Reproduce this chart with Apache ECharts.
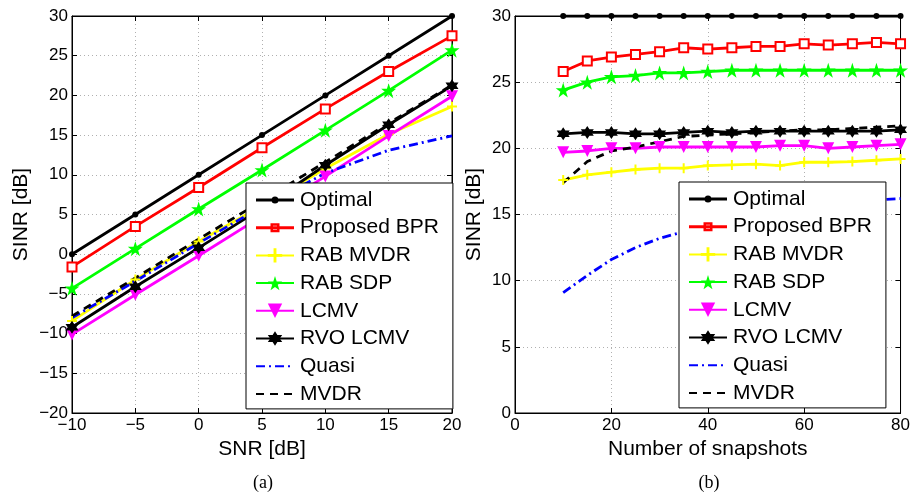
<!DOCTYPE html>
<html>
<head>
<meta charset="utf-8">
<script src="https://cdn.jsdelivr.net/npm/echarts@6/dist/echarts.min.js"></script>
<style>
  html, body { margin: 0; padding: 0; background: #fff; }
  #main { width: 913px; height: 495px; }
</style>
</head>
<body>
<div id="main"></div>
<script>
// (a) SINR vs SNR
var snr = [-10, -5, 0, 5, 10, 15, 20];
var aOptimal  = [0, 5, 10, 15, 20, 25, 30];
var aBPR      = [-1.6, 3.5, 8.4, 13.4, 18.3, 23.0, 27.5];
var aRabMvdr  = [-8.4, -3.2, 1.6, 6.1, 10.8, 15.1, 18.6];
var aRabSdp   = [-4.3, 0.7, 5.7, 10.6, 15.6, 20.6, 25.7];
var aLcmv     = [-10.1, -5.1, -0.2, 4.8, 9.8, 14.9, 19.9];
var aRvo      = [-9.2, -4.1, 0.8, 5.8, 11.2, 16.3, 21.2];
var aQuasi    = [-8.0, -3.4, 1.4, 6.0, 10.2, 13.1, 14.9];
var aMvdr     = [-7.8, -3.0, 1.9, 6.7, 11.6, 16.5, 21.3];

// (b) SINR vs number of snapshots
var snaps = [10, 15, 20, 25, 30, 35, 40, 45, 50, 55, 60, 65, 70, 75, 80];
var bOptimal  = [30, 30, 30, 30, 30, 30, 30, 30, 30, 30, 30, 30, 30, 30, 30];
var bBPR      = [25.8, 26.6, 26.9, 27.1, 27.3, 27.6, 27.5, 27.6, 27.7, 27.7, 27.9, 27.8, 27.9, 28.0, 27.9];
var bRabMvdr  = [17.6, 18.0, 18.2, 18.4, 18.5, 18.5, 18.7, 18.75, 18.8, 18.7, 18.95, 18.95, 19.0, 19.1, 19.2];
var bRabSdp   = [24.4, 25.0, 25.4, 25.5, 25.7, 25.7, 25.8, 25.9, 25.9, 25.9, 25.9, 25.9, 25.9, 25.9, 25.9];
var bLcmv     = [19.7, 19.8, 20.0, 20.0, 20.1, 20.1, 20.1, 20.1, 20.1, 20.2, 20.2, 20.0, 20.1, 20.2, 20.3];
var bRvo      = [21.1, 21.2, 21.2, 21.1, 21.1, 21.2, 21.3, 21.2, 21.3, 21.3, 21.3, 21.3, 21.3, 21.3, 21.4];
var bQuasi    = [9.1, 10.4, 11.6, 12.5, 13.2, 13.7, 14.2, 14.6, 15.0, 15.3, 15.6, 15.8, 16.0, 16.1, 16.2];
var bMvdr     = [17.4, 19.0, 19.8, 20.1, 20.5, 20.9, 21.0, 21.1, 21.2, 21.3, 21.4, 21.4, 21.5, 21.6, 21.7];

var names = ['Optimal', 'Proposed BPR', 'RAB MVDR', 'RAB SDP', 'LCMV', 'RVO LCMV', 'Quasi', 'MVDR'];

var plusPath = 'path://M4,0 L6,0 L6,4 L10,4 L10,6 L6,6 L6,10 L4,10 L4,6 L0,6 L0,4 L4,4 Z';
var starPath = 'path://M50,0 L61.8,36.2 L100,36.2 L69.1,58.6 L80.9,95 L50,72.6 L19.1,95 L30.9,58.6 L0,36.2 L38.2,36.2 Z';
var hexPath = 'path://M50,0 L64.4,25 L93.3,25 L78.9,50 L93.3,75 L64.4,75 L50,100 L35.6,75 L6.7,75 L21.1,50 L6.7,25 L35.6,25 Z';
// zero-area path: keeps the legend from drawing a dot for the plain lines
var blankPath = 'path://M0,0 L1,1';
// legend icons (line + small marker), drawn in an 38x18 box
var optimalIcon = 'path://M0,0 L0,0 M0,18 L0,18 M0,7.5 L38,7.5 L38,10.5 L0,10.5 Z M22.5,9 A3.5,3.5 0 1 1 15.5,9 A3.5,3.5 0 1 1 22.5,9 Z';
var bprIcon = 'path://M0,0 L0,0 M0,18 L0,18 M0,7.5 L38,7.5 L38,10.5 L0,10.5 Z M14.5,4.5 L23.5,4.5 L23.5,13.5 L14.5,13.5 Z M17,7 L17,11 L21,11 L21,7 Z';

// style of each curve, same order as names
var styles = [
  { color: '#000000', symbol: 'circle', size: 6, type: 'solid' },
  { color: '#ff0000', symbol: 'emptyRect', size: 9, type: 'solid' },
  { color: '#ffff00', symbol: plusPath, size: 10, type: 'solid' },
  { color: '#00ff00', symbol: starPath, size: 15, type: 'solid' },
  { color: '#ff00ff', symbol: 'triangle', size: 12, type: 'solid', rotate: 180 },
  { color: '#000000', symbol: hexPath, size: 13, type: 'solid' },
  { color: '#0000ff', symbol: blankPath, size: 1, type: [9, 4, 2, 4], hide: true },
  { color: '#000000', symbol: blankPath, size: 1, type: [8, 6], hide: true }
];

function pairs(xs, ys) {
  return xs.map(function (x, i) { return [x, ys[i]]; });
}

function makeSeries(idx, xs, ys, axis) {
  var s = styles[idx];
  return {
    name: names[idx],
    type: 'line',
    xAxisIndex: axis,
    yAxisIndex: axis,
    data: pairs(xs, ys),
    symbol: s.symbol,
    symbolSize: s.size,
    symbolRotate: s.rotate || 0,
    showSymbol: !s.hide,
    animation: false,
    color: s.color,
    lineStyle: { color: s.color, width: 2.8, type: s.type },
    itemStyle: { color: s.color, borderColor: s.color, borderWidth: s.symbol === 'emptyRect' ? 3 : 0 },
    emphasis: { disabled: true }
  };
}

var leftData = [aOptimal, aBPR, aRabMvdr, aRabSdp, aLcmv, aRvo, aQuasi, aMvdr];
var rightData = [bOptimal, bBPR, bRabMvdr, bRabSdp, bLcmv, bRvo, bQuasi, bMvdr];

var series = [];
leftData.forEach(function (d, i) { series.push(makeSeries(i, snr, d, 0)); });
rightData.forEach(function (d, i) { series.push(makeSeries(i, snaps, d, 1)); });

var fontName = '"Liberation Sans", Arial, Helvetica, sans-serif';
var serifName = '"Liberation Serif", "Times New Roman", serif';
var gridLine = { show: true, lineStyle: { color: '#b0b0b0', type: [1, 3], width: 1 } };

function minusFmt(v) { return String(v).replace('-', '\u2212'); }

function legendFor(left, top) {
  var data = names.map(function (n) {
    if (n === 'Optimal') return { name: n, icon: optimalIcon, itemStyle: { borderWidth: 0 } };
    if (n === 'Proposed BPR') return { name: n, icon: bprIcon, itemStyle: { borderWidth: 0 } };
    return { name: n };
  });
  return {
    orient: 'vertical',
    left: left,
    top: top,
    data: data,
    itemWidth: 38,
    itemHeight: 18,
    itemGap: 6.7,
    padding: [6.5, 14, 4.5, 9],
    backgroundColor: '#fff',
    borderColor: '#000',
    borderWidth: 1,
    textStyle: { color: '#000', fontSize: 21, lineHeight: 21, fontFamily: fontName, padding: [0, 0, 0, 1] },
    selectedMode: false,
    z: 10
  };
}

function axisCommon(extra) {
  var base = {
    type: 'value',
    nameLocation: 'middle',
    nameTextStyle: { color: '#000', fontSize: 21, fontFamily: fontName },
    axisLine: { show: true, onZero: false, lineStyle: { color: '#000' } },
    axisTick: { inside: true, length: 5, lineStyle: { color: '#000' } },
    axisLabel: { color: '#000', fontSize: 17, fontFamily: fontName, formatter: minusFmt, margin: 4 },
    splitLine: gridLine
  };
  return Object.assign(base, extra);
}

// box edges (top / right) with inward ticks only
function mirrorAxis(extra) {
  return Object.assign({
    type: 'value',
    axisLine: { show: true, onZero: false, lineStyle: { color: '#000' } },
    axisTick: { show: true, inside: true, length: 5, lineStyle: { color: '#000' } },
    axisLabel: { show: false },
    splitLine: { show: false }
  }, extra);
}

var option = {
  backgroundColor: '#fff',
  animation: false,
  graphic: [
    { type: 'text', x: 263, y: 483, style: { text: '(a)', font: '18px ' + serifName, fill: '#000', align: 'center', verticalAlign: 'middle' } },
    { type: 'text', x: 709, y: 483, style: { text: '(b)', font: '18px ' + serifName, fill: '#000', align: 'center', verticalAlign: 'middle' } }
  ],
  legend: [legendFor(246, 183), legendFor(679, 182)],
  grid: [
    { left: 72, top: 16, width: 380, height: 397, show: true, borderColor: '#000', borderWidth: 1, backgroundColor: 'transparent' },
    { left: 515, top: 16, width: 390, height: 397, show: true, borderColor: '#000', borderWidth: 1, backgroundColor: 'transparent' }
  ],
  xAxis: [
    axisCommon({ gridIndex: 0, min: -10, max: 20, interval: 5, name: 'SNR [dB]', nameGap: 21 }),
    axisCommon({ gridIndex: 1, min: 0, max: 80, interval: 20, name: 'Number of snapshots', nameGap: 21 }),
    mirrorAxis({ gridIndex: 0, position: 'top', min: -10, max: 20, interval: 5 }),
    mirrorAxis({ gridIndex: 1, position: 'top', min: 0, max: 80, interval: 20 })
  ],
  yAxis: [
    axisCommon({ gridIndex: 0, min: -20, max: 30, interval: 5, name: 'SINR [dB]', nameGap: 40 }),
    axisCommon({ gridIndex: 1, min: 0, max: 30, interval: 5, name: 'SINR [dB]', nameGap: 30 }),
    mirrorAxis({ gridIndex: 0, position: 'right', min: -20, max: 30, interval: 5 }),
    mirrorAxis({ gridIndex: 1, position: 'right', min: 0, max: 30, interval: 5 })
  ],
  series: series
};

var chart = echarts.init(document.getElementById('main'), null, { renderer: 'canvas' });
chart.setOption(option);
</script>
</body>
</html>
